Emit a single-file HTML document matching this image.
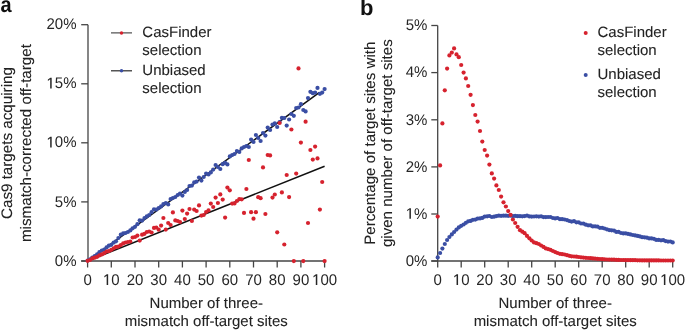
<!DOCTYPE html>
<html><head><meta charset="utf-8"><style>
html,body{margin:0;padding:0;background:#fff;width:685px;height:330px;overflow:hidden}
svg{display:block;text-rendering:geometricPrecision;filter:blur(0.35px);font-family:"Liberation Sans",sans-serif}
</style></head><body>
<svg width="685" height="330" viewBox="0 0 685 330">
<text transform="translate(0.6,11.8) scale(0.95,1.05)" font-size="21" font-weight="bold" fill="#111">a</text>
<text x="360.0" y="15.4" font-size="22" font-weight="bold" fill="#111">b</text>
<g stroke="#454545" stroke-width="1.3" fill="none">
<path d="M88,24.7V261.6M81.2,261H325"/>
<path d="M81.2,261.0H88"/>
<path d="M81.2,201.9H88"/>
<path d="M81.2,142.8H88"/>
<path d="M81.2,83.8H88"/>
<path d="M81.2,24.7H88"/>
<path d="M87.6,261V267.5"/>
<path d="M111.3,261V267.5"/>
<path d="M135.0,261V267.5"/>
<path d="M158.7,261V267.5"/>
<path d="M182.4,261V267.5"/>
<path d="M206.1,261V267.5"/>
<path d="M229.8,261V267.5"/>
<path d="M253.5,261V267.5"/>
<path d="M277.2,261V267.5"/>
<path d="M300.9,261V267.5"/>
<path d="M324.6,261V267.5"/>
</g>
<g font-size="15" fill="#262626">
<g transform="translate(0,265.60) scale(1,1.03) translate(0,-265.60)"><text x="54.82" y="265.60">0%</text></g>
<g transform="translate(0,206.50) scale(1,1.03) translate(0,-206.50)"><text x="54.82" y="206.50">5%</text></g>
<g transform="translate(0,147.40) scale(1,1.03) translate(0,-147.40)"><path transform="translate(46.48,147.40)" d="M3.70,0H5.20V-10.32H3.88L1.40,-8.66V-7.30L3.70,-8.95Z"/><text x="54.82" y="147.40">0%</text></g>
<g transform="translate(0,88.40) scale(1,1.03) translate(0,-88.40)"><path transform="translate(46.48,88.40)" d="M3.70,0H5.20V-10.32H3.88L1.40,-8.66V-7.30L3.70,-8.95Z"/><text x="54.82" y="88.40">5%</text></g>
<g transform="translate(0,29.30) scale(1,1.03) translate(0,-29.30)"><text x="46.48" y="29.30">20%</text></g>
<g transform="translate(0,284.90) scale(1,1.03) translate(0,-284.90)"><text x="83.43" y="284.90">0</text></g>
<g transform="translate(0,284.90) scale(1,1.03) translate(0,-284.90)"><path transform="translate(102.96,284.90)" d="M3.70,0H5.20V-10.32H3.88L1.40,-8.66V-7.30L3.70,-8.95Z"/><text x="111.30" y="284.90">0</text></g>
<g transform="translate(0,284.90) scale(1,1.03) translate(0,-284.90)"><text x="126.66" y="284.90">20</text></g>
<g transform="translate(0,284.90) scale(1,1.03) translate(0,-284.90)"><text x="150.36" y="284.90">30</text></g>
<g transform="translate(0,284.90) scale(1,1.03) translate(0,-284.90)"><text x="174.06" y="284.90">40</text></g>
<g transform="translate(0,284.90) scale(1,1.03) translate(0,-284.90)"><text x="197.76" y="284.90">50</text></g>
<g transform="translate(0,284.90) scale(1,1.03) translate(0,-284.90)"><text x="221.46" y="284.90">60</text></g>
<g transform="translate(0,284.90) scale(1,1.03) translate(0,-284.90)"><text x="245.16" y="284.90">70</text></g>
<g transform="translate(0,284.90) scale(1,1.03) translate(0,-284.90)"><text x="268.86" y="284.90">80</text></g>
<g transform="translate(0,284.90) scale(1,1.03) translate(0,-284.90)"><text x="292.56" y="284.90">90</text></g>
<g transform="translate(0,284.90) scale(1,1.03) translate(0,-284.90)"><path transform="translate(312.09,284.90)" d="M3.70,0H5.20V-10.32H3.88L1.40,-8.66V-7.30L3.70,-8.95Z"/><text x="320.43" y="284.90">00</text></g>
</g>
<g font-size="15" fill="#222" stroke="#222" stroke-width="0.08" text-anchor="middle">
<text x="206.3" y="307.6">Number of three-</text>
<text x="206.3" y="326.3">mismatch off-target sites</text>
<text font-size="15.2" transform="translate(12.3,143.05) rotate(-90)">Cas9 targets acquiring</text>
<text font-size="15.2" transform="translate(30.6,143.05) rotate(-90)">mismatch-corrected off-target</text>
</g>
<g stroke="#454545" stroke-width="1.3" fill="none">
<path d="M437.7,25.5V261.6M431.3,261H673"/>
<path d="M431.3,261.0H437.7"/>
<path d="M431.3,214.0H437.7"/>
<path d="M431.3,166.9H437.7"/>
<path d="M431.3,119.8H437.7"/>
<path d="M431.3,72.6H437.7"/>
<path d="M431.3,25.5H437.7"/>
<path d="M437.7,261V267.5"/>
<path d="M461.2,261V267.5"/>
<path d="M484.7,261V267.5"/>
<path d="M508.2,261V267.5"/>
<path d="M531.7,261V267.5"/>
<path d="M555.2,261V267.5"/>
<path d="M578.7,261V267.5"/>
<path d="M602.2,261V267.5"/>
<path d="M625.7,261V267.5"/>
<path d="M649.2,261V267.5"/>
<path d="M672.7,261V267.5"/>
</g>
<g font-size="15" fill="#262626">
<g transform="translate(0,265.80) scale(1,1.03) translate(0,-265.80)"><text x="405.72" y="265.80">0%</text></g>
<g transform="translate(0,218.80) scale(1,1.03) translate(0,-218.80)"><path transform="translate(405.72,218.80)" d="M3.70,0H5.20V-10.32H3.88L1.40,-8.66V-7.30L3.70,-8.95Z"/><text x="414.06" y="218.80">%</text></g>
<g transform="translate(0,171.70) scale(1,1.03) translate(0,-171.70)"><text x="405.72" y="171.70">2%</text></g>
<g transform="translate(0,124.60) scale(1,1.03) translate(0,-124.60)"><text x="405.72" y="124.60">3%</text></g>
<g transform="translate(0,77.40) scale(1,1.03) translate(0,-77.40)"><text x="405.72" y="77.40">4%</text></g>
<g transform="translate(0,30.30) scale(1,1.03) translate(0,-30.30)"><text x="405.72" y="30.30">5%</text></g>
<g transform="translate(0,284.90) scale(1,1.03) translate(0,-284.90)"><text x="433.53" y="284.90">0</text></g>
<g transform="translate(0,284.90) scale(1,1.03) translate(0,-284.90)"><path transform="translate(452.86,284.90)" d="M3.70,0H5.20V-10.32H3.88L1.40,-8.66V-7.30L3.70,-8.95Z"/><text x="461.20" y="284.90">0</text></g>
<g transform="translate(0,284.90) scale(1,1.03) translate(0,-284.90)"><text x="476.36" y="284.90">20</text></g>
<g transform="translate(0,284.90) scale(1,1.03) translate(0,-284.90)"><text x="499.86" y="284.90">30</text></g>
<g transform="translate(0,284.90) scale(1,1.03) translate(0,-284.90)"><text x="523.36" y="284.90">40</text></g>
<g transform="translate(0,284.90) scale(1,1.03) translate(0,-284.90)"><text x="546.86" y="284.90">50</text></g>
<g transform="translate(0,284.90) scale(1,1.03) translate(0,-284.90)"><text x="570.36" y="284.90">60</text></g>
<g transform="translate(0,284.90) scale(1,1.03) translate(0,-284.90)"><text x="593.86" y="284.90">70</text></g>
<g transform="translate(0,284.90) scale(1,1.03) translate(0,-284.90)"><text x="617.36" y="284.90">80</text></g>
<g transform="translate(0,284.90) scale(1,1.03) translate(0,-284.90)"><text x="640.86" y="284.90">90</text></g>
<g transform="translate(0,284.90) scale(1,1.03) translate(0,-284.90)"><path transform="translate(660.19,284.90)" d="M3.70,0H5.20V-10.32H3.88L1.40,-8.66V-7.30L3.70,-8.95Z"/><text x="668.53" y="284.90">00</text></g>
</g>
<g font-size="15" fill="#222" stroke="#222" stroke-width="0.08" text-anchor="middle">
<text x="555.2" y="307.6">Number of three-</text>
<text x="555.2" y="326.3">mismatch off-target sites</text>
<text font-size="15.1" transform="translate(374.5,143.2) rotate(-90)">Percentage of target sites with</text>
<text font-size="15.1" transform="translate(392.3,143.2) rotate(-90)">given number of off-target sites</text>
</g>
<g stroke="#111" stroke-width="1.5">
<path d="M87.6,261L319.5,92.4"/>
<path d="M87.6,261L324.6,166.3"/>
</g>
<g fill="#3a4ea4"><circle cx="87.6" cy="260.5" r="2.1"/><circle cx="90.0" cy="259.4" r="2.1"/><circle cx="92.3" cy="257.5" r="2.1"/><circle cx="94.7" cy="256.1" r="2.1"/><circle cx="97.1" cy="254.4" r="2.1"/><circle cx="99.4" cy="252.2" r="2.1"/><circle cx="101.8" cy="250.5" r="2.1"/><circle cx="104.2" cy="249.6" r="2.1"/><circle cx="106.6" cy="247.4" r="2.1"/><circle cx="108.9" cy="245.7" r="2.1"/><circle cx="111.3" cy="244.8" r="2.1"/><circle cx="113.7" cy="242.6" r="2.1"/><circle cx="116.0" cy="241.3" r="2.1"/><circle cx="118.4" cy="238.0" r="2.1"/><circle cx="120.8" cy="234.7" r="2.1"/><circle cx="123.2" cy="233.4" r="2.1"/><circle cx="125.5" cy="233.0" r="2.1"/><circle cx="127.9" cy="232.0" r="2.1"/><circle cx="130.3" cy="230.4" r="2.1"/><circle cx="132.6" cy="228.3" r="2.1"/><circle cx="135.0" cy="226.8" r="2.1"/><circle cx="137.4" cy="224.2" r="2.1"/><circle cx="139.7" cy="220.3" r="2.1"/><circle cx="142.1" cy="220.6" r="2.1"/><circle cx="144.5" cy="218.0" r="2.1"/><circle cx="146.8" cy="216.4" r="2.1"/><circle cx="149.2" cy="215.0" r="2.1"/><circle cx="151.6" cy="212.2" r="2.1"/><circle cx="154.0" cy="209.3" r="2.1"/><circle cx="156.3" cy="209.6" r="2.1"/><circle cx="158.7" cy="208.0" r="2.1"/><circle cx="161.1" cy="206.4" r="2.1"/><circle cx="163.4" cy="204.0" r="2.1"/><circle cx="165.8" cy="203.0" r="2.1"/><circle cx="168.2" cy="204.4" r="2.1"/><circle cx="170.6" cy="199.0" r="2.1"/><circle cx="172.9" cy="198.0" r="2.1"/><circle cx="175.3" cy="197.0" r="2.1"/><circle cx="177.7" cy="195.0" r="2.1"/><circle cx="180.0" cy="193.6" r="2.1"/><circle cx="182.4" cy="195.6" r="2.1"/><circle cx="184.8" cy="192.0" r="2.1"/><circle cx="187.1" cy="190.0" r="2.1"/><circle cx="189.5" cy="186.0" r="2.1"/><circle cx="191.9" cy="185.6" r="2.1"/><circle cx="194.2" cy="182.4" r="2.1"/><circle cx="196.6" cy="181.6" r="2.1"/><circle cx="199.0" cy="177.6" r="2.1"/><circle cx="201.4" cy="180.6" r="2.1"/><circle cx="203.7" cy="177.0" r="2.1"/><circle cx="206.1" cy="173.6" r="2.1"/><circle cx="208.5" cy="174.4" r="2.1"/><circle cx="210.8" cy="172.4" r="2.1"/><circle cx="213.2" cy="169.6" r="2.1"/><circle cx="215.6" cy="165.0" r="2.1"/><circle cx="217.9" cy="167.0" r="2.1"/><circle cx="220.3" cy="169.0" r="2.1"/><circle cx="222.7" cy="164.2" r="2.1"/><circle cx="225.1" cy="162.8" r="2.1"/><circle cx="227.4" cy="164.4" r="2.1"/><circle cx="229.8" cy="156.4" r="2.1"/><circle cx="232.2" cy="155.0" r="2.1"/><circle cx="234.5" cy="154.0" r="2.1"/><circle cx="236.9" cy="151.0" r="2.1"/><circle cx="239.3" cy="152.0" r="2.1"/><circle cx="241.7" cy="148.4" r="2.1"/><circle cx="244.0" cy="147.0" r="2.1"/><circle cx="246.4" cy="146.0" r="2.1"/><circle cx="248.8" cy="147.0" r="2.1"/><circle cx="251.1" cy="139.6" r="2.1"/><circle cx="253.5" cy="142.0" r="2.1"/><circle cx="255.9" cy="135.0" r="2.1"/><circle cx="258.2" cy="138.0" r="2.1"/><circle cx="260.6" cy="141.0" r="2.1"/><circle cx="263.0" cy="133.0" r="2.1"/><circle cx="265.4" cy="135.6" r="2.1"/><circle cx="267.7" cy="127.6" r="2.1"/><circle cx="270.1" cy="130.0" r="2.1"/><circle cx="272.5" cy="124.5" r="2.1"/><circle cx="274.8" cy="123.4" r="2.1"/><circle cx="277.2" cy="127.0" r="2.1"/><circle cx="279.6" cy="122.0" r="2.1"/><circle cx="281.9" cy="117.8" r="2.1"/><circle cx="284.3" cy="118.0" r="2.1"/><circle cx="286.7" cy="125.6" r="2.1"/><circle cx="289.1" cy="119.5" r="2.1"/><circle cx="291.4" cy="114.0" r="2.1"/><circle cx="293.8" cy="115.8" r="2.1"/><circle cx="296.2" cy="108.0" r="2.1"/><circle cx="298.5" cy="107.5" r="2.1"/><circle cx="300.9" cy="104.2" r="2.1"/><circle cx="303.3" cy="110.0" r="2.1"/><circle cx="305.6" cy="111.4" r="2.1"/><circle cx="308.0" cy="98.1" r="2.1"/><circle cx="310.4" cy="91.8" r="2.1"/><circle cx="312.8" cy="93.2" r="2.1"/><circle cx="315.1" cy="92.6" r="2.1"/><circle cx="317.5" cy="87.9" r="2.1"/><circle cx="319.9" cy="93.8" r="2.1"/><circle cx="322.2" cy="92.6" r="2.1"/><circle cx="324.6" cy="89.1" r="2.1"/></g>
<g fill="#d6222e"><circle cx="87.6" cy="260.8" r="2.1"/><circle cx="90.0" cy="260.0" r="2.1"/><circle cx="92.3" cy="258.4" r="2.1"/><circle cx="94.7" cy="257.7" r="2.1"/><circle cx="97.1" cy="256.8" r="2.1"/><circle cx="99.4" cy="255.4" r="2.1"/><circle cx="101.8" cy="254.4" r="2.1"/><circle cx="104.2" cy="253.2" r="2.1"/><circle cx="106.6" cy="251.5" r="2.1"/><circle cx="108.9" cy="251.1" r="2.1"/><circle cx="111.3" cy="249.8" r="2.1"/><circle cx="113.7" cy="248.3" r="2.1"/><circle cx="116.0" cy="246.9" r="2.1"/><circle cx="118.4" cy="246.6" r="2.1"/><circle cx="120.8" cy="245.1" r="2.1"/><circle cx="123.2" cy="243.4" r="2.1"/><circle cx="125.5" cy="242.5" r="2.1"/><circle cx="127.9" cy="242.0" r="2.1"/><circle cx="130.3" cy="241.5" r="2.1"/><circle cx="132.6" cy="237.5" r="2.1"/><circle cx="135.0" cy="237.0" r="2.1"/><circle cx="137.4" cy="235.6" r="2.1"/><circle cx="139.7" cy="240.6" r="2.1"/><circle cx="142.1" cy="234.7" r="2.1"/><circle cx="144.5" cy="233.8" r="2.1"/><circle cx="146.8" cy="232.0" r="2.1"/><circle cx="149.2" cy="231.5" r="2.1"/><circle cx="151.6" cy="232.5" r="2.1"/><circle cx="154.0" cy="227.9" r="2.1"/><circle cx="156.3" cy="227.5" r="2.1"/><circle cx="158.7" cy="229.7" r="2.1"/><circle cx="161.1" cy="225.6" r="2.1"/><circle cx="163.4" cy="218.0" r="2.1"/><circle cx="165.8" cy="229.6" r="2.1"/><circle cx="168.2" cy="223.0" r="2.1"/><circle cx="170.6" cy="225.0" r="2.1"/><circle cx="172.9" cy="212.4" r="2.1"/><circle cx="175.3" cy="220.4" r="2.1"/><circle cx="177.7" cy="221.0" r="2.1"/><circle cx="180.0" cy="222.0" r="2.1"/><circle cx="182.4" cy="210.6" r="2.1"/><circle cx="184.8" cy="219.0" r="2.1"/><circle cx="187.1" cy="213.6" r="2.1"/><circle cx="189.5" cy="209.0" r="2.1"/><circle cx="191.9" cy="221.0" r="2.1"/><circle cx="194.2" cy="209.6" r="2.1"/><circle cx="196.6" cy="211.0" r="2.1"/><circle cx="199.0" cy="205.4" r="2.1"/><circle cx="201.4" cy="215.6" r="2.1"/><circle cx="203.7" cy="215.0" r="2.1"/><circle cx="206.1" cy="212.0" r="2.1"/><circle cx="208.5" cy="210.4" r="2.1"/><circle cx="210.8" cy="203.6" r="2.1"/><circle cx="213.2" cy="207.0" r="2.1"/><circle cx="215.6" cy="197.6" r="2.1"/><circle cx="217.9" cy="203.0" r="2.1"/><circle cx="220.3" cy="194.4" r="2.1"/><circle cx="222.7" cy="199.6" r="2.1"/><circle cx="225.1" cy="217.6" r="2.1"/><circle cx="227.4" cy="187.6" r="2.1"/><circle cx="229.8" cy="190.3" r="2.1"/><circle cx="232.2" cy="203.6" r="2.1"/><circle cx="234.5" cy="203.4" r="2.1"/><circle cx="236.9" cy="201.0" r="2.1"/><circle cx="239.3" cy="199.0" r="2.1"/><circle cx="241.7" cy="199.3" r="2.1"/><circle cx="244.0" cy="212.9" r="2.1"/><circle cx="246.4" cy="189.0" r="2.1"/><circle cx="248.8" cy="160.0" r="2.1"/><circle cx="251.1" cy="212.2" r="2.1"/><circle cx="253.5" cy="218.7" r="2.1"/><circle cx="255.9" cy="212.2" r="2.1"/><circle cx="258.2" cy="197.2" r="2.1"/><circle cx="260.6" cy="198.2" r="2.1"/><circle cx="263.0" cy="167.4" r="2.1"/><circle cx="265.4" cy="214.0" r="2.1"/><circle cx="267.7" cy="155.0" r="2.1"/><circle cx="270.1" cy="155.4" r="2.1"/><circle cx="272.5" cy="197.6" r="2.1"/><circle cx="274.8" cy="194.5" r="2.1"/><circle cx="277.2" cy="232.3" r="2.1"/><circle cx="279.6" cy="123.0" r="2.1"/><circle cx="281.9" cy="192.4" r="2.1"/><circle cx="284.3" cy="244.5" r="2.1"/><circle cx="286.7" cy="175.0" r="2.1"/><circle cx="289.1" cy="197.1" r="2.1"/><circle cx="291.4" cy="129.5" r="2.1"/><circle cx="293.8" cy="261.1" r="2.1"/><circle cx="296.2" cy="173.6" r="2.1"/><circle cx="298.5" cy="68.4" r="2.1"/><circle cx="300.9" cy="142.6" r="2.1"/><circle cx="303.3" cy="261.1" r="2.1"/><circle cx="305.6" cy="121.7" r="2.1"/><circle cx="308.0" cy="223.0" r="2.1"/><circle cx="310.4" cy="150.0" r="2.1"/><circle cx="312.8" cy="159.6" r="2.1"/><circle cx="315.1" cy="146.6" r="2.1"/><circle cx="317.5" cy="158.4" r="2.1"/><circle cx="319.9" cy="209.6" r="2.1"/><circle cx="322.2" cy="182.0" r="2.1"/><circle cx="324.6" cy="261.1" r="2.1"/></g>
<g fill="#3a4ea4"><circle cx="437.7" cy="257.4" r="2.1"/><circle cx="440.1" cy="253.0" r="2.1"/><circle cx="442.4" cy="248.6" r="2.1"/><circle cx="444.8" cy="244.0" r="2.1"/><circle cx="447.1" cy="240.0" r="2.1"/><circle cx="449.4" cy="237.0" r="2.1"/><circle cx="451.8" cy="234.4" r="2.1"/><circle cx="454.1" cy="232.0" r="2.1"/><circle cx="456.5" cy="229.6" r="2.1"/><circle cx="458.8" cy="227.4" r="2.1"/><circle cx="461.2" cy="225.8" r="2.1"/><circle cx="463.6" cy="224.5" r="2.1"/><circle cx="465.9" cy="222.8" r="2.1"/><circle cx="468.2" cy="221.3" r="2.1"/><circle cx="470.6" cy="220.9" r="2.1"/><circle cx="472.9" cy="219.8" r="2.1"/><circle cx="475.3" cy="219.6" r="2.1"/><circle cx="477.6" cy="218.6" r="2.1"/><circle cx="480.0" cy="218.4" r="2.1"/><circle cx="482.3" cy="217.9" r="2.1"/><circle cx="484.7" cy="216.6" r="2.1"/><circle cx="487.1" cy="216.3" r="2.1"/><circle cx="489.4" cy="216.0" r="2.1"/><circle cx="491.8" cy="217.0" r="2.1"/><circle cx="494.1" cy="216.7" r="2.1"/><circle cx="496.4" cy="216.1" r="2.1"/><circle cx="498.8" cy="215.7" r="2.1"/><circle cx="501.1" cy="215.8" r="2.1"/><circle cx="503.5" cy="215.7" r="2.1"/><circle cx="505.9" cy="215.7" r="2.1"/><circle cx="508.2" cy="215.8" r="2.1"/><circle cx="510.6" cy="215.7" r="2.1"/><circle cx="512.9" cy="216.1" r="2.1"/><circle cx="515.2" cy="215.9" r="2.1"/><circle cx="517.6" cy="216.2" r="2.1"/><circle cx="520.0" cy="216.2" r="2.1"/><circle cx="522.3" cy="216.3" r="2.1"/><circle cx="524.6" cy="216.1" r="2.1"/><circle cx="527.0" cy="215.6" r="2.1"/><circle cx="529.4" cy="216.4" r="2.1"/><circle cx="531.7" cy="216.6" r="2.1"/><circle cx="534.0" cy="216.5" r="2.1"/><circle cx="536.4" cy="216.3" r="2.1"/><circle cx="538.8" cy="216.6" r="2.1"/><circle cx="541.1" cy="216.3" r="2.1"/><circle cx="543.5" cy="217.1" r="2.1"/><circle cx="545.8" cy="217.1" r="2.1"/><circle cx="548.1" cy="217.0" r="2.1"/><circle cx="550.5" cy="217.0" r="2.1"/><circle cx="552.9" cy="218.0" r="2.1"/><circle cx="555.2" cy="218.4" r="2.1"/><circle cx="557.5" cy="218.0" r="2.1"/><circle cx="559.9" cy="219.2" r="2.1"/><circle cx="562.2" cy="219.2" r="2.1"/><circle cx="564.6" cy="219.5" r="2.1"/><circle cx="567.0" cy="220.1" r="2.1"/><circle cx="569.3" cy="221.0" r="2.1"/><circle cx="571.6" cy="221.6" r="2.1"/><circle cx="574.0" cy="221.2" r="2.1"/><circle cx="576.4" cy="222.3" r="2.1"/><circle cx="578.7" cy="222.3" r="2.1"/><circle cx="581.0" cy="223.5" r="2.1"/><circle cx="583.4" cy="223.6" r="2.1"/><circle cx="585.8" cy="224.7" r="2.1"/><circle cx="588.1" cy="225.3" r="2.1"/><circle cx="590.5" cy="225.4" r="2.1"/><circle cx="592.8" cy="226.4" r="2.1"/><circle cx="595.1" cy="226.3" r="2.1"/><circle cx="597.5" cy="226.7" r="2.1"/><circle cx="599.9" cy="227.8" r="2.1"/><circle cx="602.2" cy="227.8" r="2.1"/><circle cx="604.5" cy="228.5" r="2.1"/><circle cx="606.9" cy="229.3" r="2.1"/><circle cx="609.2" cy="230.1" r="2.1"/><circle cx="611.6" cy="230.3" r="2.1"/><circle cx="614.0" cy="230.6" r="2.1"/><circle cx="616.3" cy="231.9" r="2.1"/><circle cx="618.6" cy="231.8" r="2.1"/><circle cx="621.0" cy="233.0" r="2.1"/><circle cx="623.4" cy="233.4" r="2.1"/><circle cx="625.7" cy="233.3" r="2.1"/><circle cx="628.0" cy="233.9" r="2.1"/><circle cx="630.4" cy="234.4" r="2.1"/><circle cx="632.8" cy="235.0" r="2.1"/><circle cx="635.1" cy="235.4" r="2.1"/><circle cx="637.5" cy="235.9" r="2.1"/><circle cx="639.8" cy="236.4" r="2.1"/><circle cx="642.1" cy="237.2" r="2.1"/><circle cx="644.5" cy="237.3" r="2.1"/><circle cx="646.9" cy="237.7" r="2.1"/><circle cx="649.2" cy="238.4" r="2.1"/><circle cx="651.5" cy="238.4" r="2.1"/><circle cx="653.9" cy="238.8" r="2.1"/><circle cx="656.2" cy="239.9" r="2.1"/><circle cx="658.6" cy="239.9" r="2.1"/><circle cx="661.0" cy="240.3" r="2.1"/><circle cx="663.3" cy="240.2" r="2.1"/><circle cx="665.6" cy="241.1" r="2.1"/><circle cx="668.0" cy="241.6" r="2.1"/><circle cx="670.4" cy="241.5" r="2.1"/><circle cx="672.7" cy="242.4" r="2.1"/></g>
<g fill="#d6222e"><circle cx="437.7" cy="216.6" r="2.1"/><circle cx="440.1" cy="165.4" r="2.1"/><circle cx="442.4" cy="123.4" r="2.1"/><circle cx="444.8" cy="90.3" r="2.1"/><circle cx="447.1" cy="68.6" r="2.1"/><circle cx="449.4" cy="55.4" r="2.1"/><circle cx="451.8" cy="52.6" r="2.1"/><circle cx="454.1" cy="48.4" r="2.1"/><circle cx="456.5" cy="54.4" r="2.1"/><circle cx="458.8" cy="57.2" r="2.1"/><circle cx="461.2" cy="65.0" r="2.1"/><circle cx="463.6" cy="72.6" r="2.1"/><circle cx="465.9" cy="78.4" r="2.1"/><circle cx="468.2" cy="86.0" r="2.1"/><circle cx="470.6" cy="94.8" r="2.1"/><circle cx="472.9" cy="105.1" r="2.1"/><circle cx="475.3" cy="115.0" r="2.1"/><circle cx="477.6" cy="121.6" r="2.1"/><circle cx="480.0" cy="131.0" r="2.1"/><circle cx="482.3" cy="141.6" r="2.1"/><circle cx="484.7" cy="150.0" r="2.1"/><circle cx="487.1" cy="155.6" r="2.1"/><circle cx="489.4" cy="164.6" r="2.1"/><circle cx="491.8" cy="173.4" r="2.1"/><circle cx="494.1" cy="178.6" r="2.1"/><circle cx="496.4" cy="185.4" r="2.1"/><circle cx="498.8" cy="190.0" r="2.1"/><circle cx="501.1" cy="196.6" r="2.1"/><circle cx="503.5" cy="202.3" r="2.1"/><circle cx="505.9" cy="206.5" r="2.1"/><circle cx="508.2" cy="211.1" r="2.1"/><circle cx="510.6" cy="214.9" r="2.1"/><circle cx="512.9" cy="219.5" r="2.1"/><circle cx="515.2" cy="223.0" r="2.1"/><circle cx="517.6" cy="226.8" r="2.1"/><circle cx="520.0" cy="230.2" r="2.1"/><circle cx="522.3" cy="231.7" r="2.1"/><circle cx="524.6" cy="233.2" r="2.1"/><circle cx="527.0" cy="235.9" r="2.1"/><circle cx="529.4" cy="238.3" r="2.1"/><circle cx="531.7" cy="240.5" r="2.1"/><circle cx="534.0" cy="242.4" r="2.1"/><circle cx="536.4" cy="243.2" r="2.1"/><circle cx="538.8" cy="244.0" r="2.1"/><circle cx="541.1" cy="245.5" r="2.1"/><circle cx="543.5" cy="246.9" r="2.1"/><circle cx="545.8" cy="248.4" r="2.1"/><circle cx="548.1" cy="249.1" r="2.1"/><circle cx="550.5" cy="249.8" r="2.1"/><circle cx="552.9" cy="251.0" r="2.1"/><circle cx="555.2" cy="252.1" r="2.1"/><circle cx="557.5" cy="253.0" r="2.1"/><circle cx="559.9" cy="253.8" r="2.1"/><circle cx="562.2" cy="254.2" r="2.1"/><circle cx="564.6" cy="254.5" r="2.1"/><circle cx="567.0" cy="255.2" r="2.1"/><circle cx="569.3" cy="255.8" r="2.1"/><circle cx="571.6" cy="256.3" r="2.1"/><circle cx="574.0" cy="256.5" r="2.1"/><circle cx="576.4" cy="256.7" r="2.1"/><circle cx="578.7" cy="257.0" r="2.1"/><circle cx="581.0" cy="257.3" r="2.1"/><circle cx="583.4" cy="257.6" r="2.1"/><circle cx="585.8" cy="257.8" r="2.1"/><circle cx="588.1" cy="258.0" r="2.1"/><circle cx="590.5" cy="258.2" r="2.1"/><circle cx="592.8" cy="258.4" r="2.1"/><circle cx="595.1" cy="258.6" r="2.1"/><circle cx="597.5" cy="258.8" r="2.1"/><circle cx="599.9" cy="259.0" r="2.1"/><circle cx="602.2" cy="259.2" r="2.1"/><circle cx="604.5" cy="259.3" r="2.1"/><circle cx="606.9" cy="259.5" r="2.1"/><circle cx="609.2" cy="259.6" r="2.1"/><circle cx="611.6" cy="259.6" r="2.1"/><circle cx="614.0" cy="259.7" r="2.1"/><circle cx="616.3" cy="259.8" r="2.1"/><circle cx="618.6" cy="259.9" r="2.1"/><circle cx="621.0" cy="260.0" r="2.1"/><circle cx="623.4" cy="260.0" r="2.1"/><circle cx="625.7" cy="260.1" r="2.1"/><circle cx="628.0" cy="260.1" r="2.1"/><circle cx="630.4" cy="260.2" r="2.1"/><circle cx="632.8" cy="260.2" r="2.1"/><circle cx="635.1" cy="260.2" r="2.1"/><circle cx="637.5" cy="260.3" r="2.1"/><circle cx="639.8" cy="260.3" r="2.1"/><circle cx="642.1" cy="260.4" r="2.1"/><circle cx="644.5" cy="260.4" r="2.1"/><circle cx="646.9" cy="260.4" r="2.1"/><circle cx="649.2" cy="260.4" r="2.1"/><circle cx="651.5" cy="260.4" r="2.1"/><circle cx="653.9" cy="260.4" r="2.1"/><circle cx="656.2" cy="260.4" r="2.1"/><circle cx="658.6" cy="260.4" r="2.1"/><circle cx="661.0" cy="260.5" r="2.1"/><circle cx="663.3" cy="260.5" r="2.1"/><circle cx="665.6" cy="260.5" r="2.1"/><circle cx="668.0" cy="260.5" r="2.1"/><circle cx="670.4" cy="260.5" r="2.1"/><circle cx="672.7" cy="260.5" r="2.1"/></g>
<g stroke="#555" stroke-width="1.4"><path d="M111,32.9H132M111,70.7H132"/></g>
<circle cx="121.5" cy="32.9" r="1.75" fill="#d6222e"/><circle cx="121.5" cy="70.7" r="1.75" fill="#3a4ea4"/>
<circle cx="585.7" cy="33" r="2" fill="#d6222e"/><circle cx="585.7" cy="75" r="2" fill="#3a4ea4"/>
<g font-size="15" fill="#222" stroke="#222" stroke-width="0.08">
<text x="142.3" y="37.2">CasFinder</text><text x="142.3" y="55.2">selection</text>
<text x="142.3" y="75.2">Unbiased</text><text x="142.3" y="93">selection</text>
<text x="597.5" y="37.2">CasFinder</text><text x="597.5" y="55.2">selection</text>
<text x="597.5" y="79.2">Unbiased</text><text x="597.5" y="97">selection</text>
</g>
</svg>
</body></html>
